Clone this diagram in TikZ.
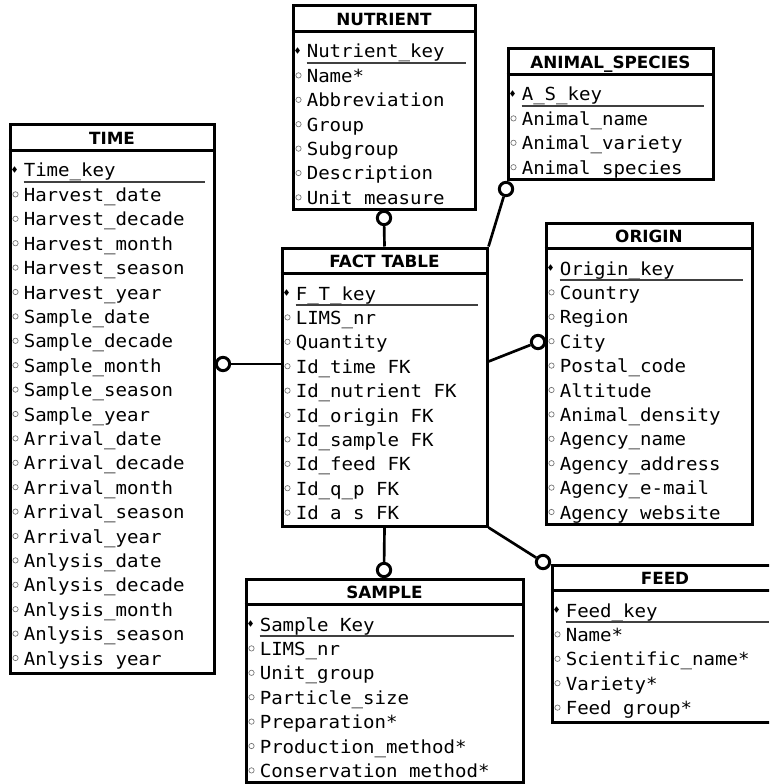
\documentclass[tikz,border=0pt]{standalone}
\usepackage{fontspec}
\newfontfamily\rowfont[FakeStretch=1.06]{DejaVu Sans Mono}
\newfontfamily\ttlfont{DejaVu Sans}
\usetikzlibrary{calc,fit,shapes.geometric}
\tikzset{
  tbl/.style={draw, line width=2.25pt, inner sep=0pt},
  sep/.style={line width=2.25pt},
  ttl/.style={font=\ttlfont\bfseries\fontsize{12.6pt}{14pt}\selectfont, inner sep=0pt, text height=9.2pt, text depth=0pt},
  attr/.style={font=\rowfont\fontsize{13.5pt}{16pt}\selectfont, anchor=base west, inner sep=0pt},
  dot/.style={circle, draw=black!55, line width=0.5pt, minimum size=4pt, inner sep=0pt},
  keydot/.style={diamond, fill=black, minimum width=3.8pt, minimum height=5pt, inner sep=0pt},
  ul/.style={line width=0.9pt, black!75},
  card/.style={circle, draw, fill=white, line width=2.25pt, minimum size=10pt, inner sep=0pt},
  rel/.style={line width=2pt},
}
\begin{document}
\begin{tikzpicture}[x=0.75pt,y=-0.75pt]
            \useasboundingbox (0,0) rectangle (769,784);
            \clip (0,0) rectangle (769,784);
            % NUTRIENT
            \node[tbl, fit={(293,6) (475,210)}] (nutrient) {};
            \node[ttl] at ($(nutrient.north)+(0,15)$) {NUTRIENT};
            \draw[sep] ($(nutrient.north west)+(0,27)$) -- ($(nutrient.north east)+(0,27)$);
            \node[attr] (nutrientk) at ($(nutrient.north west)+(15,53.5)$) {Nutrient\_key};
            \node[keydot] at ($(nutrient.north west)+(6,46)$) {};
            \draw[ul] ($(nutrientk.base west)+(0,5)$) -- ($(nutrientk.base west -| nutrient.east)+(-11,5)$);
            \foreach \t [count=\i] in {Name*, Abbreviation, Group, Subgroup, Description, Unit measure} {
              \node[attr] at ($(nutrient.north west)+(15,53.5+24.4*\i)$) {\t};
              \node[dot] at ($(nutrient.north west)+(7,46.5+24.4*\i)$) {};
            }
            % ANIMAL_SPECIES
            \node[tbl, fit={(508,49) (713,180)}] (animal) {};
            \node[ttl] at ($(animal.north)+(0,15)$) {ANIMAL\_SPECIES};
            \draw[sep] ($(animal.north west)+(0,27)$) -- ($(animal.north east)+(0,27)$);
            \node[attr] (animalk) at ($(animal.north west)+(15,53.5)$) {A\_S\_key};
            \node[keydot] at ($(animal.north west)+(6,46)$) {};
            \draw[ul] ($(animalk.base west)+(0,5)$) -- ($(animalk.base west -| animal.east)+(-11,5)$);
            \foreach \t [count=\i] in {Animal\_name, Animal\_variety, Animal species} {
              \node[attr] at ($(animal.north west)+(15,53.5+24.4*\i)$) {\t};
              \node[dot] at ($(animal.north west)+(7,46.5+24.4*\i)$) {};
            }
            % TIME
            \node[tbl, fit={(10,125) (214,673)}] (time) {};
            \node[ttl] at ($(time.north)+(0,15)$) {TIME};
            \draw[sep] ($(time.north west)+(0,27)$) -- ($(time.north east)+(0,27)$);
            \node[attr] (timek) at ($(time.north west)+(15,53.5)$) {Time\_key};
            \node[keydot] at ($(time.north west)+(6,46)$) {};
            \draw[ul] ($(timek.base west)+(0,5)$) -- ($(timek.base west -| time.east)+(-11,5)$);
            \foreach \t [count=\i] in {Harvest\_date, Harvest\_decade, Harvest\_month, Harvest\_season, Harvest\_year,
                Sample\_date, Sample\_decade, Sample\_month, Sample\_season, Sample\_year,
                Arrival\_date, Arrival\_decade, Arrival\_month, Arrival\_season, Arrival\_year,
                Anlysis\_date, Anlysis\_decade, Anlysis\_month, Anlysis\_season, Anlysis year} {
              \node[attr] at ($(time.north west)+(15,53.5+24.4*\i)$) {\t};
              \node[dot] at ($(time.north west)+(7,46.5+24.4*\i)$) {};
            }
            % FACT TABLE
            \node[tbl, fit={(282,248) (487,526)}] (fact) {};
            \node[ttl] at ($(fact.north)+(0,15)$) {FACT TABLE};
            \draw[sep] ($(fact.north west)+(0,27)$) -- ($(fact.north east)+(0,27)$);
            \node[attr] (factk) at ($(fact.north west)+(15,53.5)$) {F\_T\_key};
            \node[keydot] at ($(fact.north west)+(6,46)$) {};
            \draw[ul] ($(factk.base west)+(0,5)$) -- ($(factk.base west -| fact.east)+(-11,5)$);
            \foreach \t [count=\i] in {LIMS\_nr, Quantity, Id\_time FK, Id\_nutrient FK, Id\_origin FK,
                Id\_sample FK, Id\_feed FK, Id\_q\_p FK, Id a s FK} {
              \node[attr] at ($(fact.north west)+(15,53.5+24.4*\i)$) {\t};
              \node[dot] at ($(fact.north west)+(7,46.5+24.4*\i)$) {};
            }
            % ORIGIN
            \node[tbl, fit={(546,223) (752,524)}] (origin) {};
            \node[ttl] at ($(origin.north)+(0,15)$) {ORIGIN};
            \draw[sep] ($(origin.north west)+(0,27)$) -- ($(origin.north east)+(0,27)$);
            \node[attr] (origink) at ($(origin.north west)+(15,53.5)$) {Origin\_key};
            \node[keydot] at ($(origin.north west)+(6,46)$) {};
            \draw[ul] ($(origink.base west)+(0,5)$) -- ($(origink.base west -| origin.east)+(-11,5)$);
            \foreach \t [count=\i] in {Country, Region, City, Postal\_code, Altitude, Animal\_density,
                Agency\_name, Agency\_address, Agency\_e-mail, Agency website} {
              \node[attr] at ($(origin.north west)+(15,53.5+24.4*\i)$) {\t};
              \node[dot] at ($(origin.north west)+(7,46.5+24.4*\i)$) {};
            }
            % FEED
            \node[tbl, fit={(552,565) (778,722)}] (feed) {};
            \node[ttl] at ($(feed.north)+(0,15)$) {FEED};
            \draw[sep] ($(feed.north west)+(0,27)$) -- ($(feed.north east)+(0,27)$);
            \node[attr] (feedk) at ($(feed.north west)+(15,53.5)$) {Feed\_key};
            \node[keydot] at ($(feed.north west)+(6,46)$) {};
            \draw[ul] ($(feedk.base west)+(0,5)$) -- ($(feedk.base west -| feed.east)+(-11,5)$);
            \foreach \t [count=\i] in {Name*, Scientific\_name*, Variety*, Feed group*} {
              \node[attr] at ($(feed.north west)+(15,53.5+24.4*\i)$) {\t};
              \node[dot] at ($(feed.north west)+(7,46.5+24.4*\i)$) {};
            }
            % SAMPLE
            \node[tbl, fit={(246,579) (523,782)}] (sample) {};
            \node[ttl] at ($(sample.north)+(0,15)$) {SAMPLE};
            \draw[sep] ($(sample.north west)+(0,27)$) -- ($(sample.north east)+(0,27)$);
            \node[attr] (samplek) at ($(sample.north west)+(15,53.5)$) {Sample Key};
            \node[keydot] at ($(sample.north west)+(6,46)$) {};
            \draw[ul] ($(samplek.base west)+(0,5)$) -- ($(samplek.base west -| sample.east)+(-11,5)$);
            \foreach \t [count=\i] in {LIMS\_nr, Unit\_group, Particle\_size, Preparation*,
                Production\_method*, Conservation method*} {
              \node[attr] at ($(sample.north west)+(15,53.5+24.4*\i)$) {\t};
              \node[dot] at ($(sample.north west)+(7,46.5+24.4*\i)$) {};
            }
            % Collegamenti
            \node[card] (cnutrient) at (384,218) {};
            \node[card] (canimal) at (506,189) {};
            \node[card] (ctime) at (223,364) {};
            \node[card] (corigin) at (538,342) {};
            \node[card] (csample) at (384,570) {};
            \node[card] (cfeed) at (543,562) {};
            \draw[rel] (fact.north) -- (cnutrient);
            \draw[rel] (fact.north east) -- (canimal);
            \draw[rel] (ctime -| fact.west) -- (ctime);
            \draw[rel] ($(fact.north east)+(0,115)$) -- (corigin);
            \draw[rel] (fact.south) -- (csample);
            \draw[rel] (fact.south east) -- (cfeed);
\end{tikzpicture}
\end{document}
